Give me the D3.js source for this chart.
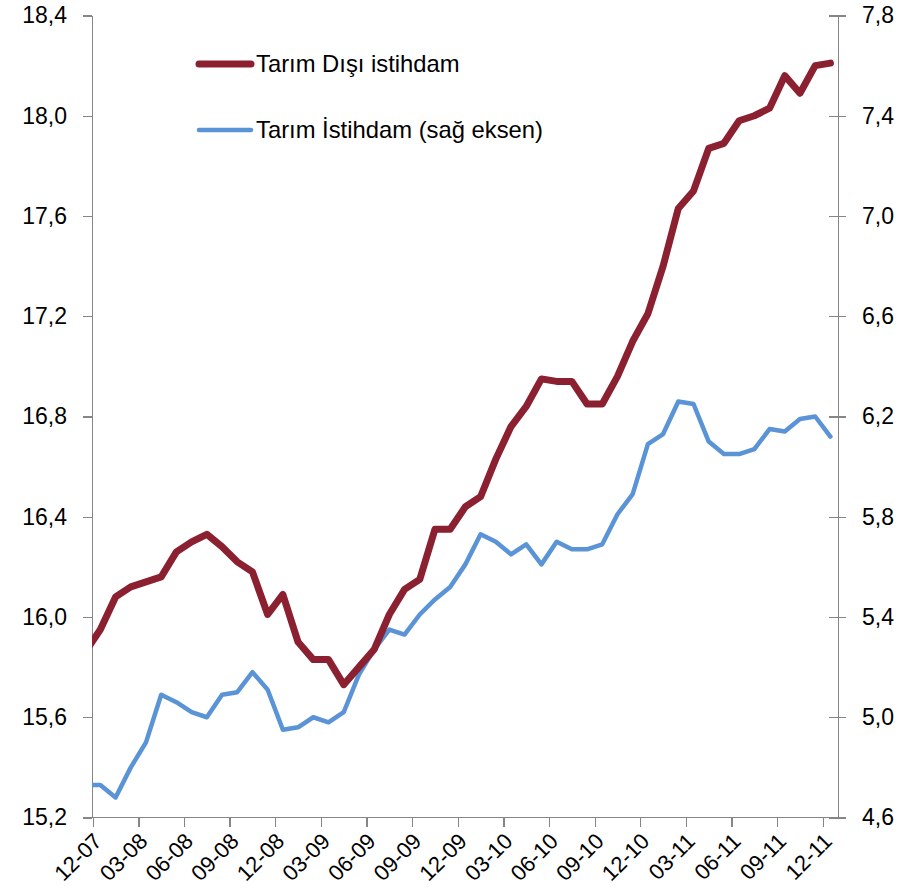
<!DOCTYPE html>
<html>
<head>
<meta charset="utf-8">
<script src="https://cdn.jsdelivr.net/npm/d3@7"></script>
<style>
  body { margin: 0; background: #ffffff; }
  svg text { font-family: "Liberation Sans", Arial, sans-serif; fill: #000000; }
  .axis path, .axis line { stroke: #868686; stroke-width: 1.3; shape-rendering: crispEdges; }
</style>
</head>
<body>
<div id="chart"></div>
<script>
// monthly categories (first month sits left of the axis and is clipped)
var months = ['11-07', '12-07',
  '01-08', '02-08', '03-08', '04-08', '05-08', '06-08', '07-08', '08-08', '09-08', '10-08', '11-08', '12-08',
  '01-09', '02-09', '03-09', '04-09', '05-09', '06-09', '07-09', '08-09', '09-09', '10-09', '11-09', '12-09',
  '01-10', '02-10', '03-10', '04-10', '05-10', '06-10', '07-10', '08-10', '09-10', '10-10', '11-10', '12-10',
  '01-11', '02-11', '03-11', '04-11', '05-11', '06-11', '07-11', '08-11', '09-11', '10-11', '11-11', '12-11'];

// Tarım Dışı istihdam (left axis, million)
var tarim_disi = [15.86, 15.95, 16.08, 16.12, 16.14, 16.16, 16.26, 16.30, 16.33, 16.28,
  16.22, 16.18, 16.01, 16.09, 15.90, 15.83, 15.83, 15.73, 15.80, 15.87,
  16.01, 16.11, 16.15, 16.35, 16.35, 16.44, 16.48, 16.63, 16.76, 16.84,
  16.95, 16.94, 16.94, 16.85, 16.85, 16.96, 17.10, 17.21, 17.40, 17.63,
  17.70, 17.87, 17.89, 17.98, 18.00, 18.03, 18.16, 18.09, 18.20, 18.21];

// Tarım İstihdam (right axis, million)
var tarim = [4.73, 4.73, 4.68, 4.80, 4.90, 5.09, 5.06, 5.02, 5.00, 5.09,
  5.10, 5.18, 5.11, 4.95, 4.96, 5.00, 4.98, 5.02, 5.17, 5.27,
  5.35, 5.33, 5.41, 5.47, 5.52, 5.61, 5.73, 5.70, 5.65, 5.69,
  5.61, 5.70, 5.67, 5.67, 5.69, 5.81, 5.89, 6.09, 6.13, 6.26,
  6.25, 6.10, 6.05, 6.05, 6.07, 6.15, 6.14, 6.19, 6.20, 6.12];

var left_ticks = [15.2, 15.6, 16.0, 16.4, 16.8, 17.2, 17.6, 18.0, 18.4];
var right_ticks = [4.6, 5.0, 5.4, 5.8, 6.2, 6.6, 7.0, 7.4, 7.8];
var x_ticks = ['12-07', '03-08', '06-08', '09-08', '12-08', '03-09', '06-09', '09-09',
  '12-09', '03-10', '06-10', '09-10', '12-10', '03-11', '06-11', '09-11', '12-11'];

var series_names = ['Tarım Dışı istihdam', 'Tarım İstihdam (sağ eksen)'];

var settings = {
  width: 912,
  height: 888,
  plot_left: 92,
  plot_right: 838,
  plot_top: 15.5,
  plot_bottom: 817.5,
  red: '#8a2030',
  blue: '#5a93d6',
  red_width: 7,
  blue_width: 4.5,
  font_size: 23,
  legend_font_size: 23.8,
  x_font_size: 22
};

var comma = function(d) { return d3.format('.1f')(d).replace('.', ','); };

var svg = d3.select('#chart').append('svg')
  .attr('width', settings.width)
  .attr('height', settings.height);

// each month is a slot; marks sit in the middle, ticks on the slot edge
var slot = (settings.plot_right - settings.plot_left) / (months.length - 1 + 0.05);
var x = d3.scaleLinear()
  .domain([0, months.length])
  .range([settings.plot_right - slot * months.length, settings.plot_right]);

var yL = d3.scaleLinear().domain([15.2, 18.4]).range([settings.plot_bottom, settings.plot_top]);
var yR = d3.scaleLinear().domain([4.6, 7.8]).range([settings.plot_bottom, settings.plot_top]);

svg.append('clipPath').attr('id', 'plotclip')
  .append('rect')
  .attr('x', settings.plot_left)
  .attr('y', 0)
  .attr('width', settings.plot_right - settings.plot_left)
  .attr('height', settings.height);

// axes
var leftAxis = svg.append('g')
  .attr('class', 'axis')
  .attr('transform', 'translate(' + settings.plot_left + ',0)')
  .call(d3.axisLeft(yL).tickValues(left_ticks).tickSizeInner(9).tickSizeOuter(0).tickPadding(16).tickFormat(comma));

var rightAxis = svg.append('g')
  .attr('class', 'axis')
  .attr('transform', 'translate(' + settings.plot_right + ',0)')
  .call(d3.axisRight(yR).tickValues(right_ticks).tickSizeInner(8).tickSizeOuter(0).tickPadding(16).tickFormat(comma));
rightAxis.selectAll('.tick line').attr('x1', -9);

var bottomAxis = svg.append('g')
  .attr('class', 'axis')
  .attr('transform', 'translate(0,' + settings.plot_bottom + ')')
  .call(d3.axisBottom(x)
    .tickValues(x_ticks.map(function(m) { return months.indexOf(m); }))
    .tickSizeInner(9).tickSizeOuter(0)
    .tickFormat(function(i) { return months[i]; }));
bottomAxis.select('.domain').attr('d', 'M' + (settings.plot_left - 9) + ',0H' + (settings.plot_right + 8));

svg.selectAll('.axis text').style('font-size', settings.font_size + 'px');
svg.selectAll('.axis .domain').attr('stroke', '#868686');

bottomAxis.selectAll('.tick text')
  .style('font-size', settings.x_font_size + 'px')
  .attr('y', 0)
  .attr('dy', 0)
  .attr('text-anchor', 'end')
  .attr('transform', 'translate(10,25) rotate(-45)');

// lines
var lineL = d3.line()
  .x(function(d, i) { return x(i + 0.5); })
  .y(function(d) { return yL(d); });
var lineR = d3.line()
  .x(function(d, i) { return x(i + 0.5); })
  .y(function(d) { return yR(d); });

var plot = svg.append('g').attr('clip-path', 'url(#plotclip)');

plot.append('path')
  .datum(tarim)
  .attr('d', lineR)
  .attr('fill', 'none')
  .attr('stroke', settings.blue)
  .attr('stroke-width', settings.blue_width)
  .attr('stroke-linejoin', 'round')
  .attr('stroke-linecap', 'round');

plot.append('path')
  .datum(tarim_disi)
  .attr('d', lineL)
  .attr('fill', 'none')
  .attr('stroke', settings.red)
  .attr('stroke-width', settings.red_width)
  .attr('stroke-linejoin', 'round')
  .attr('stroke-linecap', 'round');

// legend
var legend = svg.append('g').attr('class', 'legend');
var legend_items = [
  { name: series_names[0], color: settings.red, width: settings.red_width, y: 64 },
  { name: series_names[1], color: settings.blue, width: settings.blue_width, y: 130 }
];
var item = legend.selectAll('g.item').data(legend_items).enter().append('g')
  .attr('class', 'item')
  .attr('transform', function(d) { return 'translate(0,' + d.y + ')'; });
item.append('line')
  .attr('x1', 199).attr('x2', 251)
  .attr('y1', 0).attr('y2', 0)
  .attr('stroke', function(d) { return d.color; })
  .attr('stroke-width', function(d) { return d.width; })
  .attr('stroke-linecap', 'round');
item.append('text')
  .attr('x', 256)
  .attr('y', 8)
  .style('font-size', settings.legend_font_size + 'px')
  .text(function(d) { return d.name; });
</script>
</body>
</html>
